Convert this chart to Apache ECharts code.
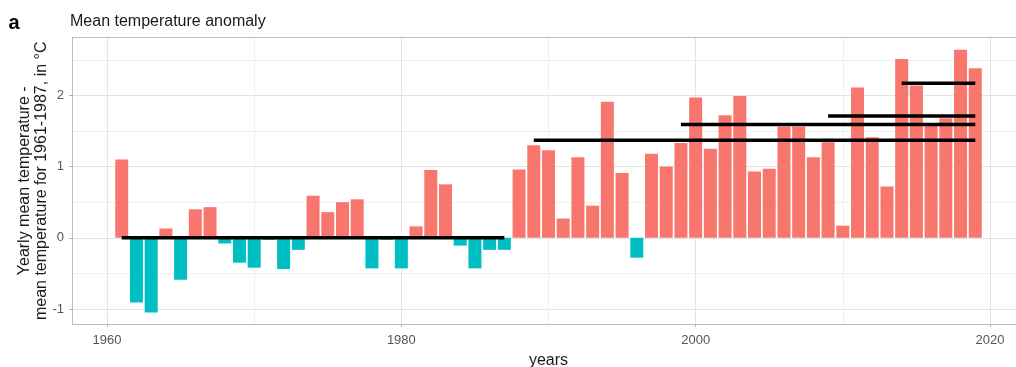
<!DOCTYPE html>
<html><head><meta charset="utf-8">
<script src="https://cdn.jsdelivr.net/npm/echarts@6/dist/echarts.min.js"></script>
<style>html,body{margin:0;padding:0;background:#fff}#c{width:1016px;height:367px}</style>
</head><body><div id="c"></div>
<script>
const years = [1961,1962,1963,1964,1965,1966,1967,1968,1969,1970,
  1971,1972,1973,1974,1975,1976,1977,1978,1979,1980,
  1981,1982,1983,1984,1985,1986,1987,1988,1989,1990,
  1991,1992,1993,1994,1995,1996,1997,1998,1999,2000,
  2001,2002,2003,2004,2005,2006,2007,2008,2009,2010,
  2011,2012,2013,2014,2015,2016,2017,2018,2019];
const anomalies = [1.10,-0.91,-1.05,0.13,-0.59,0.40,0.43,-0.08,-0.35,-0.42,
  -0.03,-0.44,-0.17,0.59,0.36,0.50,0.54,-0.43,-0.03,-0.43,
  0.16,0.95,0.75,-0.11,-0.43,-0.17,-0.17,0.96,1.30,1.23,
  0.27,1.13,0.45,1.91,0.91,-0.28,1.18,1.00,1.33,1.97,
  1.25,1.72,1.99,0.93,0.97,1.56,1.56,1.13,1.34,0.17,
  2.11,1.41,0.72,2.51,2.14,1.57,1.68,2.64,2.38];
const periodStart = [1961, 1989, 1999, 2009, 2014];
const periodEnd   = [1987, 2019, 2019, 2019, 2019];
const periodMean  = [0, 1.37, 1.59, 1.71, 2.17];
const xMajorTicks = [1960, 1980, 2000, 2020];
const xMinorTicks = [1970, 1990, 2010];
const yMajorTicks = [-1, 0, 1, 2];
const yMinorTicks = [-0.5, 0.5, 1.5, 2.5];

const FONT = 'Liberation Sans';
const XMIN = 1957.62, XMAX = 2022.38, YMIN = -1.21, YMAX = 2.81;
const POS = '#F8766D', NEG = '#00BFC4';

const chart = echarts.init(document.getElementById('c'), null, {renderer:'canvas'});

const meanSeries = periodStart.map((s, i) => ({
  type: 'line', symbol: 'none', silent: true, z: 5,
  xAxisIndex: 0, yAxisIndex: 0,
  lineStyle: {color: '#000', width: 3.5, cap: 'butt'},
  data: [[s, periodMean[i]], [periodEnd[i], periodMean[i]]]
}));

const option = {
  animation: false,
  title: [
    {text: 'a', left: 8.5, top: 13, padding: 0,
     textStyle: {fontFamily: FONT, fontSize: 20, fontWeight: 'bold', color: '#000', lineHeight: 20}},
    {text: 'Mean temperature anomaly', left: 70, top: 13.2, padding: 0,
     textStyle: {fontFamily: FONT, fontSize: 16, fontWeight: 'normal', color: '#1a1a1a', lineHeight: 16}}
  ],
  grid: {left: 72, top: 37.7, width: 953, height: 286.2, containLabel: false, outerBoundsMode: 'none'},
  xAxis: [
    {type: 'value', min: XMIN, max: XMAX, position: 'bottom',
     name: 'years', nameLocation: 'middle', nameGap: 29, nameMoveOverlap: false,
     nameTextStyle: {fontFamily: FONT, fontSize: 16, color: '#1a1a1a', lineHeight: 16},
     axisLine: {show: true, onZero: false, lineStyle: {color: '#BEBEBE', width: 1}},
     axisTick: {show: true, length: 3, customValues: xMajorTicks, lineStyle: {color: '#B3B3B3'}},
     axisLabel: {customValues: xMajorTicks, margin: 10, color: '#555', fontFamily: FONT, fontSize: 13,
                 formatter: v => String(v)},
     splitLine: {show: true, lineStyle: {color: '#E4E4E4', width: 1}}},
    {type: 'value', min: XMIN, max: XMAX, position: 'top',
     axisLine: {show: true, onZero: false, lineStyle: {color: '#BEBEBE', width: 1}},
     axisTick: {show: false, customValues: xMinorTicks},
     axisLabel: {show: false, customValues: xMinorTicks},
     splitLine: {show: true, lineStyle: {color: '#EFEFEF', width: 1}}}
  ],
  yAxis: [
    {type: 'value', min: YMIN, max: YMAX, position: 'left',
     name: 'Yearly mean temperature -\nmean temperature for 1961-1987, in °C',
     nameLocation: 'middle', nameRotate: 90, nameGap: 21.5, nameMoveOverlap: false,
     nameTextStyle: {fontFamily: FONT, fontSize: 16, color: '#1a1a1a', lineHeight: 17},
     axisLine: {show: true, onZero: false, lineStyle: {color: '#BEBEBE', width: 1}},
     axisTick: {show: true, length: 3, customValues: yMajorTicks, lineStyle: {color: '#B3B3B3'}},
     axisLabel: {customValues: yMajorTicks, margin: 8, color: '#555', fontFamily: FONT, fontSize: 13},
     splitLine: {show: true, lineStyle: {color: '#E4E4E4', width: 1}}},
    {type: 'value', min: YMIN, max: YMAX, position: 'right',
     axisLine: {show: false, onZero: false},
     axisTick: {show: false, customValues: yMinorTicks},
     axisLabel: {show: false, customValues: yMinorTicks},
     splitLine: {show: true, lineStyle: {color: '#EFEFEF', width: 1}}}
  ],
  series: [
    {type: 'bar', xAxisIndex: 0, yAxisIndex: 0, barWidth: 13, z: 3,
     data: years.map((y, i) => [y, anomalies[i]]),
     itemStyle: {color: p => (p.value[1] >= 0 ? POS : NEG)}}
  ].concat(meanSeries)
};
chart.setOption(option);
</script>
</body></html>
